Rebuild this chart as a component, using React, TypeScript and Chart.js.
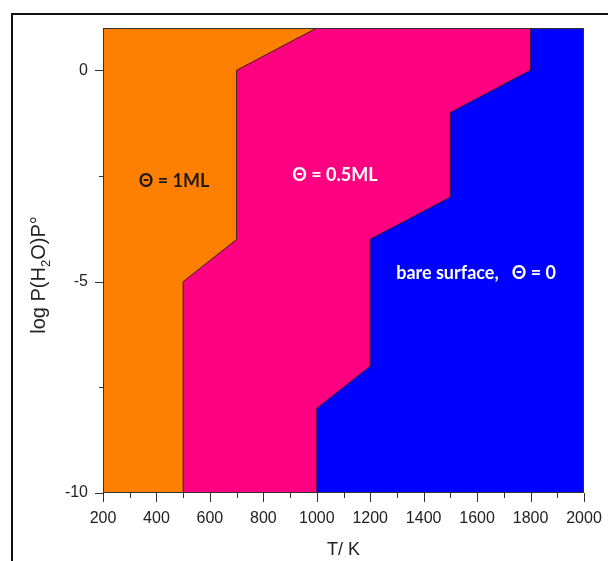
import React, { useEffect, useRef } from 'react';
import { Chart, registerables } from 'chart.js';

Chart.register(...registerables);

// Axis ranges
const T_MIN = 200;
const T_MAX = 2000;
const LOGP_MIN = -10;
const LOGP_MAX = 1;

// Tick labels
const xTicks = [200, 400, 600, 800, 1000, 1200, 1400, 1600, 1800, 2000];
const yTicks = [-10, -5, 0];

// Phase boundary: Θ = 1ML | Θ = 0.5ML
const boundary1T = [500, 500, 700, 700, 1000];
const boundary1LogP = [-10, -5, -4, 0, 1];

// Phase boundary: Θ = 0.5ML | bare surface
const boundary2T = [1000, 1000, 1200, 1200, 1500, 1500, 1800, 1800];
const boundary2LogP = [-10, -8, -7, -4, -3, -1, 0, 1];

// Region labels (placed in data coordinates)
const regionLabels = ['Θ = 1ML', 'Θ = 0.5ML', 'bare surface,   Θ = 0'];
const regionLabelT = [466, 1068, 1596];
const regionLabelLogP = [-2.62, -2.48, -4.8];
const regionLabelColors = ['#1d1a18', '#ffffff', '#ffffff'];

const xTitle = 'T/ K';

const toPoints = (xs: number[], ys: number[]) => xs.map((x, i) => ({ x, y: ys[i] }));

const decorPlugin = {
  id: 'decor',
  beforeDraw(chart: any) {
    const ctx = chart.ctx;
    ctx.save();
    ctx.fillStyle = '#ffffff';
    ctx.fillRect(0, 0, chart.width, chart.height);
    ctx.strokeStyle = '#111';
    ctx.lineWidth = 2;
    ctx.beginPath();
    ctx.moveTo(12, chart.height + 5);
    ctx.lineTo(12, 14);
    ctx.lineTo(chart.width + 5, 14);
    ctx.stroke();
    ctx.restore();
  },
  afterDraw(chart: any) {
    const ctx = chart.ctx;
    const { left, right, top, bottom } = chart.chartArea;
    const xs = chart.scales.x;
    const ys = chart.scales.y;
    ctx.save();
    // frame
    ctx.strokeStyle = '#333';
    ctx.lineWidth = 1;
    ctx.strokeRect(left + 0.5, top + 0.5, right - left - 1, bottom - top - 1);
    // x ticks (major + minor)
    ctx.beginPath();
    for (let v = T_MIN; v <= T_MAX; v += 100) {
      const px = Math.round(xs.getPixelForValue(v)) + 0.5;
      const len = v % 200 === 0 ? 9 : 5;
      ctx.moveTo(px, bottom);
      ctx.lineTo(px, bottom + len);
    }
    for (let v = LOGP_MIN; v <= 0; v += 2.5) {
      const py = Math.round(ys.getPixelForValue(v)) + 0.5;
      const len = v % 5 === 0 ? 8 : 4;
      ctx.moveTo(left, py);
      ctx.lineTo(left - len, py);
    }
    ctx.stroke();

    // x title
    ctx.fillStyle = '#222';
    ctx.font = '18px "Liberation Sans"';
    ctx.textAlign = 'center';
    ctx.textBaseline = 'middle';
    ctx.fillText(xTitle, (left + right) / 2, 550);

    // y title with subscript, rotated
    ctx.save();
    ctx.translate(45, 275);
    ctx.rotate(-Math.PI / 2);
    ctx.textAlign = 'left';
    ctx.textBaseline = 'alphabetic';
    const parts: [string, boolean][] = [['log P(H', false], ['2', true], ['O)P°', false]];
    const mainFont = '20px "Liberation Sans"';
    const subFont = '13px "Liberation Sans"';
    let total = 0;
    const widths = parts.map(([t, sub]) => {
      ctx.font = sub ? subFont : mainFont;
      const w = ctx.measureText(t).width;
      total += w;
      return w;
    });
    let cx = -total / 2;
    parts.forEach(([t, sub], i) => {
      ctx.font = sub ? subFont : mainFont;
      ctx.fillText(t, cx, sub ? 5 : 0);
      cx += widths[i];
    });
    ctx.restore();

    // region labels
    ctx.font = 'bold 18px Lato';
    ctx.textAlign = 'center';
    ctx.textBaseline = 'middle';
    regionLabels.forEach((lab, i) => {
      ctx.fillStyle = regionLabelColors[i];
      ctx.fillText(lab, xs.getPixelForValue(regionLabelT[i]), ys.getPixelForValue(regionLabelLogP[i]));
    });
    ctx.restore();
  },
};

export default function App() {
  const ref = useRef<HTMLCanvasElement>(null);
  useEffect(() => {
    if (!ref.current) return;
    const chart = new Chart(ref.current, {
      type: 'line',
      data: {
        datasets: [
          {
            label: 'Θ = 1ML',
            data: [{ x: T_MIN, y: LOGP_MIN }, ...toPoints(boundary1T, boundary1LogP)],
            fill: 'end',
            backgroundColor: '#FF8000',
            borderColor: '#3b2418',
            borderWidth: 1,
            pointRadius: 0,
            tension: 0,
            order: 0,
          },
          {
            label: 'Θ = 0.5ML',
            data: [{ x: T_MIN, y: LOGP_MIN }, ...toPoints(boundary2T, boundary2LogP)],
            fill: 'end',
            backgroundColor: '#FF0080',
            borderColor: '#3b1030',
            borderWidth: 1,
            pointRadius: 0,
            tension: 0,
            order: 1,
          },
          {
            label: 'bare surface',
            data: [{ x: T_MIN, y: LOGP_MIN }, { x: T_MAX, y: LOGP_MIN }],
            fill: 'end',
            backgroundColor: '#0000FF',
            borderColor: '#0000FF',
            borderWidth: 0,
            pointRadius: 0,
            order: 2,
          },
        ],
      },
      options: {
        animation: false,
        responsive: false,
        layout: { padding: { top: 28, right: 24, left: 0, bottom: 0 } },
        plugins: { legend: { display: false }, tooltip: { enabled: false } },
        scales: {
          x: {
            type: 'linear',
            min: T_MIN,
            max: T_MAX,
            afterBuildTicks: (s: any) => { s.ticks = xTicks.map((v) => ({ value: v })); },
            afterFit: (s: any) => { s.height = 68; s.paddingLeft = 0; s.paddingRight = 0; },
            grid: { display: false },
            border: { display: false },
            ticks: {
              font: { family: 'Liberation Sans', size: 16 },
              color: '#222',
              padding: 8,
              maxRotation: 0,
              autoSkip: false,
              callback: (v: any) => String(v),
            },
          },
          y: {
            type: 'linear',
            min: LOGP_MIN,
            max: LOGP_MAX,
            afterBuildTicks: (s: any) => { s.ticks = yTicks.map((v) => ({ value: v })); },
            afterFit: (s: any) => { s.width = 103; s.paddingTop = 0; s.paddingBottom = 0; },
            grid: { display: false },
            border: { display: false },
            ticks: {
              font: { family: 'Liberation Sans', size: 16 },
              color: '#222',
              padding: 7,
              callback: (v: any) => String(v),
            },
          },
        },
      },
      plugins: [decorPlugin],
    });
    return () => chart.destroy();
  }, []);
  return (
    <canvas
      ref={ref}
      width={608}
      height={561}
      style={{ position: 'absolute', left: 0, top: 0, width: 608, height: 561 }}
    />
  );
}
